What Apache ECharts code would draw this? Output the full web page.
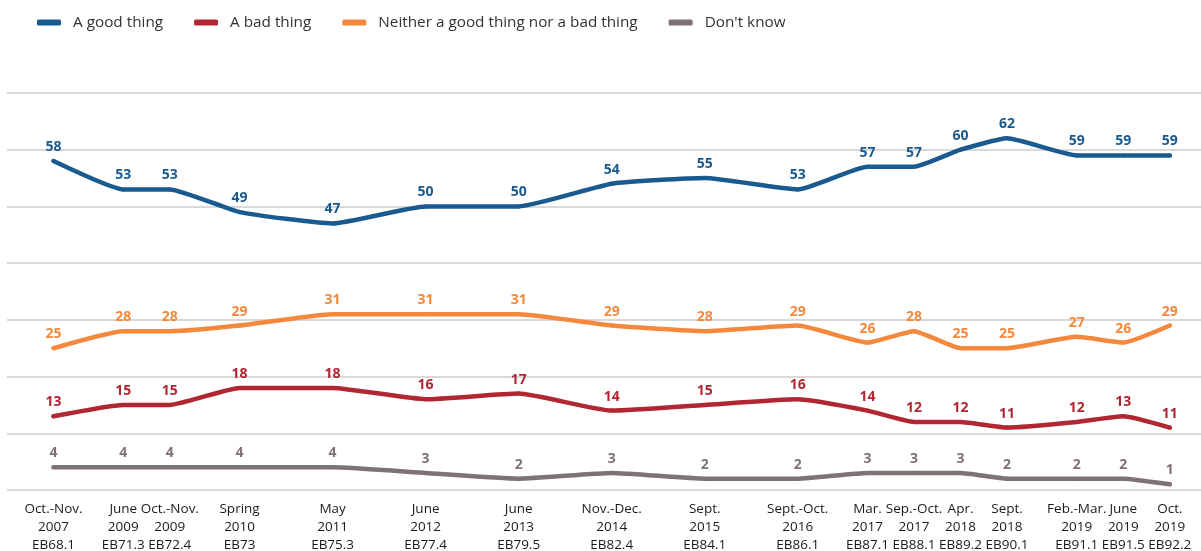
<!DOCTYPE html>
<html>
<head>
<meta charset="utf-8">
<script src="https://cdn.jsdelivr.net/npm/echarts@6/dist/echarts.min.js"></script>
<style>
  html, body { margin: 0; padding: 0; background: #fff; }
  #chart { width: 1201px; height: 551px; }
</style>
</head>
<body>
<div id="chart"></div>
<script>
  // survey waves, placed on the x axis by their spacing in the picture
  var waves = ['Oct.-Nov.\n2007\nEB68.1', 'June\n2009\nEB71.3', 'Oct.-Nov.\n2009\nEB72.4', 'Spring\n2010\nEB73',
    'May\n2011\nEB75.3', 'June\n2012\nEB77.4', 'June\n2013\nEB79.5', 'Nov.-Dec.\n2014\nEB82.4', 'Sept.\n2015\nEB84.1',
    'Sept.-Oct.\n2016\nEB86.1', 'Mar.\n2017\nEB87.1', 'Sep.-Oct.\n2017\nEB88.1', 'Apr.\n2018\nEB89.2', 'Sept.\n2018\nEB90.1',
    'Feb.-Mar.\n2019\nEB91.1', 'June\n2019\nEB91.5', 'Oct.\n2019\nEB92.2'];
  var wavePos = [0, 1.5, 2.5, 4, 6, 8, 10, 12, 14, 16, 17.5, 18.5, 19.5, 20.5, 22, 23, 24];

  var goodThing = [58, 53, 53, 49, 47, 50, 50, 54, 55, 53, 57, 57, 60, 62, 59, 59, 59];
  var badThing = [13, 15, 15, 18, 18, 16, 17, 14, 15, 16, 14, 12, 12, 11, 12, 13, 11];
  var neither = [25, 28, 28, 29, 31, 31, 31, 29, 28, 29, 26, 28, 25, 25, 27, 26, 29];
  var dontKnow = [4, 4, 4, 4, 4, 3, 2, 3, 2, 2, 3, 3, 3, 2, 2, 2, 1];

  var chart = echarts.init(document.getElementById('chart'));

  // 把数值和位置拼成点
  function points(values) {
    return values.map(function (v, i) { return [wavePos[i], v]; });
  }

  function lineSeries(name, values, color) {
    return {
      name: name,
      type: 'line',
      data: points(values),
      smooth: 0.15,
      symbol: 'circle',
      symbolSize: 4,
      showAllSymbol: true,
      lineStyle: { width: 4.5, color: color, cap: 'round', join: 'round' },
      itemStyle: { color: color },
      label: {
        show: true,
        position: 'top',
        distance: 5,
        color: color,
        fontWeight: 'bold',
        fontSize: 14,
        fontFamily: 'Open Sans',
        formatter: function (p) { return p.value[1]; }
      },
      labelLayout: { hideOverlap: false },
      emphasis: { disabled: true },
      animation: false
    };
  }

  chart.setOption({
    textStyle: { fontFamily: 'Open Sans' },
    legend: {
      top: 10,
      left: 32,
      itemWidth: 24,
      itemHeight: 6,
      itemGap: 31,
      icon: 'roundRect',
      textStyle: { fontSize: 15.3, color: '#333', padding: [0, 0, 0, 7] },
      data: ['A good thing', 'A bad thing', 'Neither a good thing nor a bad thing', "Don't know"]
    },
    grid: { left: 7, right: 0, top: 93, bottom: 61, outerBoundsMode: 'none' },
    xAxis: {
      type: 'value',
      min: -1,
      max: 24.67,
      interval: 0.5,
      axisLine: { show: false },
      axisTick: { show: false },
      splitLine: { show: false },
      axisLabel: {
        margin: 10,
        fontSize: 13.5,
        lineHeight: 18,
        color: '#1a1a1a',
        showMaxLabel: false,
        showMinLabel: true,
        formatter: function (v) {
          var i = wavePos.indexOf(v);
          return i >= 0 ? waves[i] : '';
        }
      }
    },
    yAxis: {
      type: 'value',
      min: 0,
      max: 70,
      interval: 10,
      axisLabel: { show: false },
      axisLine: { show: false },
      axisTick: { show: false },
      splitLine: { lineStyle: { color: '#d9d9d9', width: 2 } }
    },
    series: [
      lineSeries('A good thing', goodThing, '#1b5a8e'),
      lineSeries('A bad thing', badThing, '#b02632'),
      lineSeries('Neither a good thing nor a bad thing', neither, '#f4883c'),
      lineSeries("Don't know", dontKnow, '#7e7177')
    ]
  });
</script>
</body>
</html>
